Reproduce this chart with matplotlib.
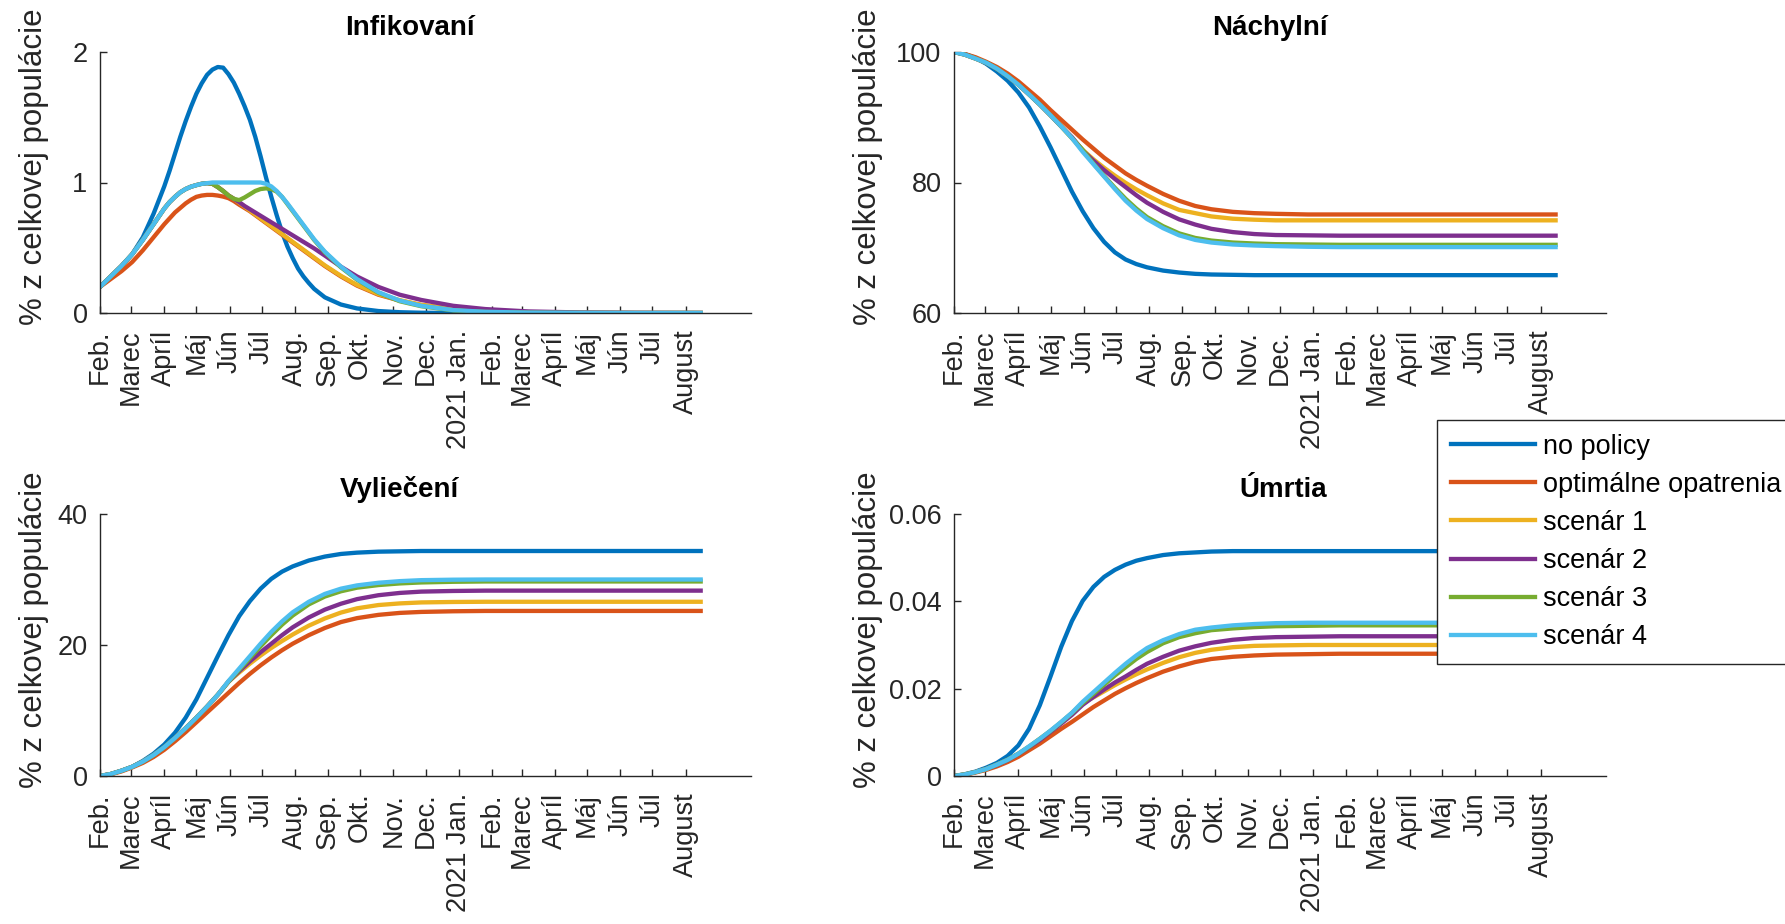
import numpy as np
import matplotlib
matplotlib.use("Agg")
import matplotlib.pyplot as plt

plt.rcParams["font.family"] = ["Liberation Sans", "DejaVu Sans"]

# days after 1 Feb 2020
start = np.datetime64("2020-02-01")
days = [0, 10, 20, 30, 40, 50, 60, 70, 80, 90, 100, 110, 120, 130, 140, 150, 160,
        170, 180, 195, 210, 225, 240, 260, 280, 300, 330, 360, 400, 450, 500, 561]
# finer grid for the infected panel
inf_days = [0, 10, 20, 30, 40, 50, 60, 65, 70, 75, 80, 85, 90, 95, 100, 105, 110, 115, 120, 125,
            130, 135, 140, 145, 150, 155, 160, 165, 170, 175, 180, 185, 190, 195, 200, 210, 225,
            240, 260, 280, 300, 330, 360, 400, 450, 500, 561]

names = ["no policy", "optimálne opatrenia", "scenár 1", "scenár 2", "scenár 3", "scenár 4"]
colors = ["#0072BD", "#D95319", "#EDB120", "#7E2F8E", "#77AC30", "#4DBEEE"]

month_labels = ["Feb.", "Marec", "Apríl", "Máj", "Jún", "Júl", "Aug.", "Sep.", "Okt.",
                "Nov.", "Dec.", "2021 Jan.", "Feb.", "Marec", "Apríl", "Máj", "Jún",
                "Júl", "August"]

# Infikovaní (%), on inf_days
inf_no = [0.20, 0.28, 0.36, 0.45, 0.58, 0.76, 0.97,
          1.09, 1.22, 1.35, 1.47, 1.58, 1.68, 1.76, 1.825, 1.865, 1.885,
          1.88, 1.83, 1.765, 1.68, 1.585, 1.48, 1.35, 1.20, 1.04, 0.89,
          0.75, 0.62, 0.51, 0.42, 0.34, 0.28, 0.23, 0.185,
          0.12, 0.065, 0.035, 0.015, 0.006, 0.002, 0, 0, 0, 0, 0, 0]
inf_opt = [0.20, 0.26, 0.32, 0.39, 0.48, 0.58, 0.68,
           0.725, 0.77, 0.805, 0.84, 0.868, 0.89, 0.90, 0.905, 0.905, 0.90,
           0.892, 0.88, 0.858, 0.83, 0.805, 0.78, 0.75, 0.72, 0.69, 0.66,
           0.63, 0.60, 0.57, 0.54, 0.51, 0.48, 0.45, 0.42,
           0.36, 0.28, 0.21, 0.14, 0.095, 0.06, 0.03, 0.013, 0.004, 0.001, 0, 0]
inf_s1 = [0.20, 0.28, 0.36, 0.45, 0.56, 0.68, 0.80,
          0.85, 0.89, 0.925, 0.95, 0.968, 0.98, 0.99, 0.995, 0.99, 0.965,
          0.935, 0.90, 0.875, 0.845, 0.815, 0.785, 0.755, 0.725, 0.695, 0.665,
          0.635, 0.605, 0.575, 0.545, 0.515, 0.485, 0.455, 0.425,
          0.365, 0.285, 0.215, 0.145, 0.098, 0.063, 0.032, 0.014, 0.004, 0.001, 0, 0]
inf_s2 = [0.20, 0.28, 0.36, 0.45, 0.56, 0.68, 0.80,
          0.85, 0.89, 0.925, 0.95, 0.968, 0.98, 0.99, 0.995, 0.99, 0.965,
          0.935, 0.90, 0.875, 0.85, 0.82, 0.795, 0.77, 0.745, 0.72, 0.695,
          0.67, 0.645, 0.62, 0.595, 0.57, 0.545, 0.52, 0.495,
          0.44, 0.355, 0.28, 0.20, 0.14, 0.10, 0.055, 0.03, 0.012, 0.004, 0.001, 0]
inf_s3 = [0.20, 0.28, 0.36, 0.45, 0.56, 0.68, 0.80,
          0.85, 0.89, 0.925, 0.95, 0.968, 0.98, 0.99, 0.995, 0.99, 0.965,
          0.935, 0.90, 0.875, 0.865, 0.885, 0.91, 0.935, 0.95, 0.955, 0.95,
          0.93, 0.89, 0.835, 0.78, 0.725, 0.67, 0.615, 0.56,
          0.465, 0.35, 0.255, 0.155, 0.09, 0.052, 0.02, 0.008, 0.003, 0.001, 0, 0]
inf_s4 = [0.20, 0.28, 0.36, 0.45, 0.56, 0.68, 0.80,
          0.85, 0.89, 0.925, 0.95, 0.968, 0.98, 0.99, 0.995, 1.0, 1.0,
          1.0, 1.0, 1.0, 1.0, 1.0, 1.0, 1.0, 1.0, 0.99, 0.97,
          0.935, 0.89, 0.84, 0.785, 0.73, 0.675, 0.62, 0.565,
          0.47, 0.355, 0.26, 0.16, 0.095, 0.055, 0.022, 0.009, 0.003, 0.001, 0, 0]

# Náchylní (%)
sus_no = [100, 99.7, 99.1, 98.2, 97.0, 95.6, 93.8, 91.5, 88.6, 85.4, 82.0, 78.6, 75.6, 73.0, 70.9, 69.3,
          68.2, 67.5, 67.0, 66.5, 66.2, 66.0, 65.9, 65.85, 65.8, 65.8, 65.8, 65.8, 65.8, 65.8, 65.8, 65.8]
sus_opt = [100, 99.7, 99.2, 98.5, 97.7, 96.7, 95.5, 94.1, 92.7, 91.1, 89.6, 88.1, 86.6, 85.2, 83.8, 82.6,
           81.4, 80.4, 79.5, 78.25, 77.2, 76.4, 75.9, 75.5, 75.3, 75.2, 75.1, 75.1, 75.1, 75.1, 75.1, 75.1]
sus_s1 = [100, 99.6, 99.0, 98.35, 97.45, 96.3, 95.0, 93.5, 91.95, 90.3, 88.6, 86.8, 85.0, 83.55, 82.25, 81.05,
          79.95, 78.95, 78.05, 76.8, 75.8, 75.3, 74.8, 74.45, 74.3, 74.2, 74.2, 74.2, 74.2, 74.2, 74.2, 74.2]
sus_s2 = [100, 99.6, 99.0, 98.35, 97.45, 96.3, 95.0, 93.5, 91.95, 90.3, 88.6, 86.95, 84.9, 83.35, 81.9, 80.55,
          79.3, 78.05, 76.9, 75.5, 74.35, 73.55, 72.9, 72.4, 72.1, 71.95, 71.9, 71.85, 71.85, 71.85, 71.85, 71.85]
sus_s3 = [100, 99.6, 99.0, 98.35, 97.45, 96.3, 95.0, 93.5, 91.95, 90.3, 88.6, 86.8, 85.0, 82.9, 81.0, 79.2,
          77.5, 76.0, 74.7, 73.3, 72.2, 71.5, 71.1, 70.8, 70.65, 70.55, 70.5, 70.45, 70.45, 70.45, 70.45, 70.45]
sus_s4 = [100, 99.6, 99.0, 98.35, 97.45, 96.3, 95.0, 93.5, 91.95, 90.3, 88.6, 86.8, 84.7, 82.8, 80.9, 79.0,
          77.2, 75.7, 74.4, 73.0, 71.9, 71.2, 70.8, 70.5, 70.35, 70.25, 70.15, 70.1, 70.1, 70.1, 70.1, 70.1]

# Vyliečení (%)
rec_no = [0, 0.3, 0.8, 1.4, 2.3, 3.4, 4.8, 6.6, 8.9, 11.7, 15.0, 18.3, 21.5, 24.4, 26.7, 28.6,
          30.1, 31.2, 32.0, 32.9, 33.5, 33.9, 34.1, 34.25, 34.3, 34.35, 34.35, 34.35, 34.35, 34.35, 34.35, 34.35]
rec_opt = [0, 0.25, 0.7, 1.3, 2.0, 2.9, 4.0, 5.3, 6.7, 8.2, 9.7, 11.2, 12.7, 14.2, 15.6, 16.9,
           18.1, 19.2, 20.2, 21.5, 22.6, 23.5, 24.1, 24.6, 24.9, 25.05, 25.15, 25.2, 25.2, 25.2, 25.2, 25.2]
rec_s1 = [0, 0.3, 0.8, 1.4, 2.2, 3.2, 4.4, 5.8, 7.3, 8.9, 10.6, 12.4, 14.4, 15.8, 17.15, 18.4,
          19.55, 20.6, 21.6, 22.95, 24.05, 24.95, 25.6, 26.1, 26.35, 26.5, 26.57, 26.6, 26.6, 26.6, 26.6, 26.6]
rec_s2 = [0, 0.3, 0.8, 1.4, 2.2, 3.2, 4.4, 5.8, 7.3, 8.9, 10.6, 12.4, 14.4, 16.0, 17.5, 18.9,
          20.2, 21.5, 22.7, 24.2, 25.4, 26.3, 27.0, 27.6, 27.95, 28.15, 28.25, 28.3, 28.3, 28.3, 28.3, 28.3]
rec_s3 = [0, 0.3, 0.8, 1.4, 2.2, 3.2, 4.4, 5.8, 7.3, 8.9, 10.6, 12.4, 14.4, 16.2, 18.0, 19.8,
          21.5, 23.1, 24.5, 26.2, 27.4, 28.2, 28.75, 29.15, 29.4, 29.55, 29.65, 29.7, 29.7, 29.7, 29.7, 29.7]
rec_s4 = [0, 0.3, 0.8, 1.4, 2.2, 3.2, 4.4, 5.8, 7.3, 8.9, 10.6, 12.4, 14.5, 16.4, 18.3, 20.2,
          22.0, 23.6, 25.0, 26.6, 27.8, 28.6, 29.1, 29.5, 29.75, 29.9, 29.97, 30.0, 30.0, 30.0, 30.0, 30.0]

# Úmrtia (%)
dea_no = [0, 0.0004, 0.0010, 0.0019, 0.0030, 0.0046, 0.0070, 0.0108, 0.0162, 0.0228, 0.0296, 0.0355,
          0.0401, 0.0433, 0.0456, 0.0472, 0.0484, 0.0493, 0.0499, 0.0506, 0.0510, 0.0512, 0.0514, 0.0515,
          0.0515, 0.0515, 0.0515, 0.0515, 0.0515, 0.0515, 0.0515, 0.0515]
dea_opt = [0, 0.0003, 0.0008, 0.0014, 0.0022, 0.0032, 0.0044, 0.0059, 0.0074, 0.0091, 0.0108, 0.0124,
           0.0141, 0.0158, 0.0173, 0.0188, 0.0201, 0.0213, 0.0224, 0.0239, 0.0251, 0.0261, 0.0268, 0.0273,
           0.0276, 0.0278, 0.0279, 0.0280, 0.0280, 0.0280, 0.0280, 0.0280]
dea_s1 = [0, 0.00035, 0.0009, 0.0016, 0.0026, 0.0037, 0.0051, 0.0067, 0.0085, 0.0103, 0.0123, 0.0144,
          0.0167, 0.0180, 0.0194, 0.0208, 0.0221, 0.0233, 0.0244, 0.0259, 0.0272, 0.0282, 0.0289, 0.0295,
          0.0298, 0.0299, 0.0300, 0.0300, 0.0300, 0.0300, 0.0300, 0.0300]
dea_s2 = [0, 0.0003, 0.0009, 0.0016, 0.0025, 0.0036, 0.0050, 0.0066, 0.0082, 0.0101, 0.0120, 0.0140,
          0.0163, 0.0181, 0.0198, 0.0214, 0.0228, 0.0243, 0.0257, 0.0273, 0.0287, 0.0297, 0.0305, 0.0312,
          0.0316, 0.0318, 0.0319, 0.0320, 0.0320, 0.0320, 0.0320, 0.0320]
dea_s3 = [0, 0.00035, 0.0009, 0.0016, 0.0026, 0.0037, 0.0051, 0.0067, 0.0085, 0.0103, 0.0123, 0.0144,
          0.0167, 0.0188, 0.0209, 0.0230, 0.0249, 0.0268, 0.0284, 0.0304, 0.0318, 0.0327, 0.0334, 0.0338,
          0.0341, 0.0343, 0.0344, 0.0345, 0.0345, 0.0345, 0.0345, 0.0345]
dea_s4 = [0, 0.00035, 0.0009, 0.0016, 0.0026, 0.0037, 0.0051, 0.0068, 0.0085, 0.0104, 0.0124, 0.0145,
          0.0170, 0.0192, 0.0214, 0.0236, 0.0257, 0.0276, 0.0293, 0.0311, 0.0325, 0.0335, 0.0340, 0.0345,
          0.0348, 0.0350, 0.0351, 0.0351, 0.0351, 0.0351, 0.0351, 0.0351]

dates = start + np.array(days, dtype="timedelta64[D]")
inf_dates = start + np.array(inf_days, dtype="timedelta64[D]")

# title, x, series, ylim, yticks, ytick labels, title x position
panels = [
    ("Infikovaní", inf_dates, [inf_no, inf_opt, inf_s1, inf_s2, inf_s3, inf_s4],
     (0, 2), [0, 1, 2], ["0", "1", "2"], 0.476),
    ("Náchylní", dates, [sus_no, sus_opt, sus_s1, sus_s2, sus_s3, sus_s4],
     (60, 100), [60, 80, 100], ["60", "80", "100"], 0.485),
    ("Vyliečení", dates, [rec_no, rec_opt, rec_s1, rec_s2, rec_s3, rec_s4],
     (0, 40), [0, 20, 40], ["0", "20", "40"], 0.46),
    ("Úmrtia", dates, [dea_no, dea_opt, dea_s1, dea_s2, dea_s3, dea_s4],
     (0, 0.06), [0, 0.02, 0.04, 0.06], ["0", "0.02", "0.04", "0.06"], 0.505),
]

month_ticks = np.arange(np.datetime64("2020-02"), np.datetime64("2021-09"),
                        dtype="datetime64[M]").astype("datetime64[D]")

W, H = 1785, 924
fig = plt.figure(figsize=(W / 100, H / 100), dpi=100)

# axes boxes in pixels: left, top, right, bottom
boxes = [(100, 52, 751, 313), (954, 52, 1606, 313), (100, 514, 751, 776), (954, 514, 1606, 776)]
label_x = [-0.078, -0.109, -0.078, -0.109]

axis_col = "#262626"
for (title, x, series, ylim, yt, ytl, tx), (l, t, r, b), lx in zip(panels, boxes, label_x):
    ax = fig.add_axes([l / W, 1 - b / H, (r - l) / W, (b - t) / H])
    for vals, c, n in zip(series, colors, names):
        ax.plot(x, vals, color=c, lw=3.1, label=n)
    ax.set_xlim(np.datetime64("2020-02-01"), np.datetime64("2021-10-01"))
    ax.set_ylim(*ylim)
    ax.set_yticks(yt)
    ax.set_yticklabels(ytl)
    ax.set_xticks(month_ticks)
    ax.set_xticklabels(month_labels, rotation=90)
    ax.tick_params(axis="x", direction="in", length=5, width=1, pad=12, labelsize=19.5, colors=axis_col)
    ax.tick_params(axis="y", direction="in", length=5, width=1, pad=9, labelsize=19.5, colors=axis_col)
    for s in ("top", "right"):
        ax.spines[s].set_visible(False)
    for s in ("left", "bottom"):
        ax.spines[s].set_color(axis_col)
        ax.spines[s].set_linewidth(1)
    ax.set_ylabel("% z celkovej populácie", fontsize=22.5, color=axis_col)
    ax.yaxis.set_label_coords(lx, 0.56)
    ax.set_title(title, fontsize=20, fontweight="bold", pad=12.5, x=tx)

handles, labels = ax.get_legend_handles_labels()
leg = fig.legend(handles, labels, loc="upper left", bbox_to_anchor=(1437 / W, 1 - 420 / H),
                 borderaxespad=0, fontsize=19.5, handlelength=3.1, handletextpad=0.3,
                 labelspacing=0.45, borderpad=0.5, fancybox=False, framealpha=1)
leg.get_frame().set_edgecolor(axis_col)
leg.get_frame().set_linewidth(1)

fig.savefig("out.png", dpi=100)
